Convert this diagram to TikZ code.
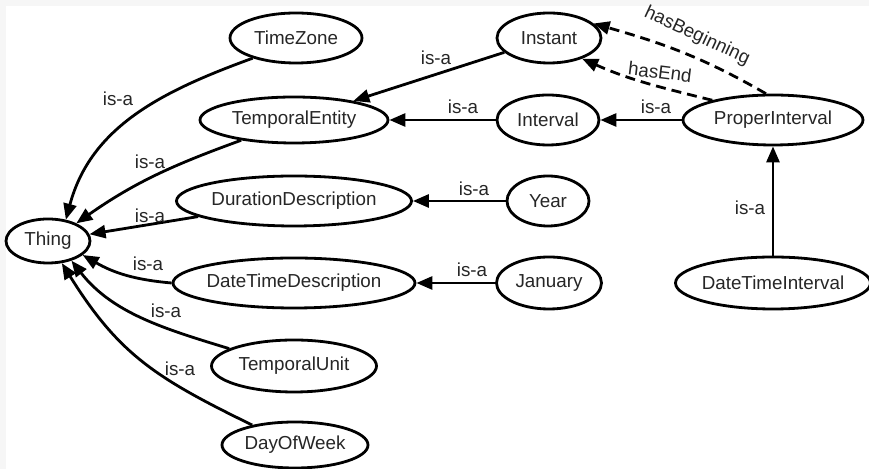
\documentclass[tikz,border=0pt]{standalone}
\usepackage{fontspec}
\setmainfont{Liberation Sans}
\usetikzlibrary{arrows.meta,shapes.geometric}

\begin{document}
\begin{tikzpicture}[
    x=0.5pt, y=0.5pt,
    cls/.style={ellipse, draw, line width=1.4pt, inner xsep=-10pt, inner ysep=0pt, font=\fontsize{9.4}{11}\selectfont, text=black!85, fill=white},
    isa/.style={line width=1.4pt, -{Triangle[length=8pt,width=6.5pt]}},
    rel/.style={isa, dash pattern=on 5pt off 3pt},
    lbl/.style={font=\fontsize{9.4}{11}\selectfont, text=black!85, inner sep=0pt}
]
% background
\fill[gray!7] (0,0) rectangle (869,-469);
\fill[white] (6,-6) rectangle (869,-469);
\useasboundingbox (0,0) rectangle (869,-469);

% classes
\node[cls, minimum width=66pt, minimum height=25pt] (tz) at (296,-38) {TimeZone};
\node[cls, minimum width=94pt, minimum height=23pt] (te) at (294,-120) {TemporalEntity};
\node[cls, minimum width=117.5pt, minimum height=25pt] (dd) at (294,-201) {DurationDescription};
\node[cls, minimum width=42pt, minimum height=22pt] (thing) at (48,-241) {Thing};
\node[cls, minimum width=121pt, minimum height=25pt] (dtd) at (294,-283) {DateTimeDescription};
\node[cls, minimum width=82.5pt, minimum height=26pt] (tu) at (294,-366) {TemporalUnit};
\node[cls, minimum width=73pt, minimum height=23pt] (dow) at (295,-445) {DayOfWeek};
\node[cls, minimum width=52pt, minimum height=25pt] (inst) at (549,-38) {Instant};
\node[cls, minimum width=51pt, minimum height=25pt] (intv) at (548,-120) {Interval};
\node[cls, minimum width=41pt, minimum height=25pt] (year) at (548,-201) {Year};
\node[cls, minimum width=90pt, minimum height=25pt] (pi) at (773,-120) {ProperInterval};
\node[cls, minimum width=52.5pt, minimum height=26pt] (jan) at (549,-283) {January};
\node[cls, minimum width=97.5pt, minimum height=26pt] (dti) at (773,-283) {DateTimeInterval};

% is-a links to Thing
\draw[isa] (tz.205) to[out=200,in=75] (thing.50);
\draw[isa] (te.201) to[out=200,in=35] (thing.32);
\draw[isa] (dd) -- (thing);
\draw[isa] (dtd.west) to[out=175,in=-30] (thing.-22);
\draw[isa] (tu.165) to[out=163,in=-52,looseness=0.95] (thing.-40);
\draw[isa] (dow.155) to[out=154,in=-58,looseness=1.1] (thing.-58);

% other is-a links
\draw[isa] (inst) -- (te);
\draw[isa] (intv) -- (te);
\draw[isa] (pi) -- (intv);
\draw[isa] (year) -- (dd);
\draw[isa] (jan) -- (dtd);
\draw[isa] (dti) -- (pi);

% properties
\draw[rel] (pi.105) to[out=150,in=-16] (inst.18);
\draw[rel] (pi.162) to[out=166,in=-24] (inst.-32);

% labels
\node[lbl] (ltz) at (118,-99) {is-a};
\node[lbl] (lte) at (150,-162) {is-a};
\node[lbl] (ldd) at (150,-216) {is-a};
\node[lbl] (ldtd) at (148,-264) {is-a};
\node[lbl] (ltu) at (166,-311) {is-a};
\node[lbl] (ldow) at (180,-369) {is-a};
\node[lbl] (linst) at (436,-58) {is-a};
\node[lbl] (lintv) at (463,-107) {is-a};
\node[lbl] (lpi) at (656,-107) {is-a};
\node[lbl] (lyear) at (474,-189) {is-a};
\node[lbl] (ljan) at (472,-270) {is-a};
\node[lbl] (ldti) at (750,-208) {is-a};
\node[lbl, rotate=-25] (lbeg) at (697,-36) {hasBeginning};
\node[lbl, rotate=-7] (lend) at (660,-72) {hasEnd};
\end{tikzpicture}
\end{document}
